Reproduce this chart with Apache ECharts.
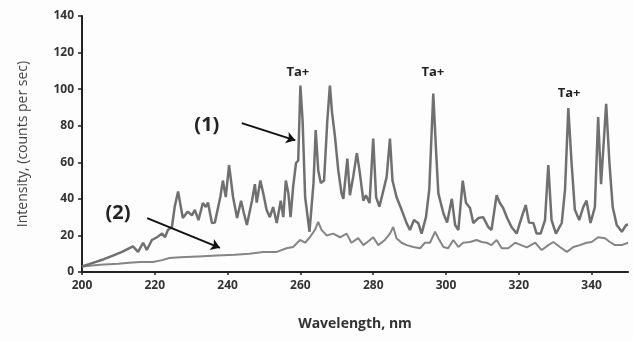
<!DOCTYPE html>
<html>
<head>
<meta charset="utf-8">
<script src="https://cdn.jsdelivr.net/npm/echarts@6/dist/echarts.min.js"></script>
<style>
html,body{margin:0;padding:0;background:#fdfdfd;}
#chart{width:633px;height:341px;}
</style>
</head>
<body>
<div id="chart"></div>
<script>
// Series (1): wavelength (nm) and intensity (counts per sec)
var wl1 = [200,203,206,208.5,211,214,215.4,216.8,217.8,219.2,220.6,222,222.8,223.6,224.7,225.5,226.4,227.7,229,230.2,231,232,233.2,234,234.6,235.7,236.5,238,238.7,239.5,240.4,241.5,242.6,243.7,244.5,245.3,246.7,247.5,248,249,249.8,250.7,251.6,252.5,253.5,254.6,255.3,256,256.7,257.3,258,258.8,259.4,260,260.6,261.3,262.5,263.6,264.2,264.9,265.6,266.5,267.4,268.1,268.7,269.5,270.4,271.3,271.8,272.9,273.6,274.5,275.5,276.2,277.3,278,279,280,280.8,281.7,282.6,283.7,284.6,285.3,286.4,287.8,289.2,290.1,291.2,292.4,293.3,294.5,295.4,296.5,297.3,297.9,299.3,300.3,301.6,302.5,303.4,304.6,305.5,306.6,307.5,308.9,310.2,311.6,312.5,313.9,314.8,315.7,316.8,318,319.4,320.8,321.9,322.8,324,324.9,326,327.2,328.1,329,330.2,331.8,332.7,333.6,334.5,335.4,336.6,337.7,338.6,339.7,340.9,341.8,342.6,344,344.9,345.8,346.9,348.3,349.5,350];
var int1 = [3,5,7,9,11,14,11,16,12,17.5,19,21,19,23,24.6,36,44,29.5,33,31,34,28.4,37.7,35.5,38,26.8,27,41,50,41,58.5,41,29.5,39,32,25.7,39,48,38,50,43,34,30,35.5,26.8,39,30,50,43,30,46.5,59.6,61,102,83,41,22,48.6,77.6,55.7,48.6,50,83,102,87,74,55.7,43,40,62,42,52,65,56,39,42,37.7,73,41,35.7,43,52,73,50,41,34,26.6,23,28.4,26.6,21,30,45,97.6,65,43,32,27,40,25.7,23,50,37.7,35,26.8,29.5,30,24.6,23,42,37.7,35,29.5,24.6,21,30,36.6,27,26.8,21,21,28.4,58.5,28.4,21,26.8,45,89.6,59.6,34,28.4,35.5,39,26.8,35.5,84.7,48,92,59.6,35.5,25.7,22,25.7,26];

// Series (2)
var wl2 = [200,205,210,213,216,219.5,222,224,227,232,237,242,246,249.8,253.5,256.2,258,259.9,261.3,262.6,264,264.9,265.8,267.2,269,270.9,272.7,274,275.9,277.3,279.1,280,281.4,283.2,284.6,285.5,286.4,287.8,289.2,291,292.9,294.2,295.6,297,297.9,299.3,300.6,302,303.4,304.7,306.6,308.4,309.8,311.2,312.5,313.9,315.3,317.1,319,320.3,322.2,324.5,326.3,328.1,329.5,331.3,333.2,335,336.8,338.6,340,341.8,343.7,345,346.4,348.3,350];
var int2 = [3,4,4.5,5,5.5,5.5,6.5,7.7,8,8.5,9,9.5,10,11,11,13,13.7,17.5,16,19,23,27.4,23,20,21,19,21,16,18.5,14.7,17.5,19,14.7,17.5,21,24.6,18.5,16,14.7,13.7,13,16,16,22,18.5,13.7,13,17.5,13.7,16,16.4,17.5,16.4,16,14.7,17.5,13,13,16,15,13.5,16,12,14.7,16.4,13.7,11,13.7,14.7,16,16.4,19,18.5,16.4,14.7,14.7,16];

var xTicks = [200,220,240,260,280,300,320,340];
var yTicks = [0,20,40,60,80,100,120,140];

function pairs(x, y){ return x.map(function(v,i){ return [v, y[i]]; }); }

var chart = echarts.init(document.getElementById('chart'), null, {renderer:'canvas'});
var txt = function(name, coord, size){
  return {name:name, coord:coord, symbolSize:0,
    label:{show:true, formatter:name, color:'#222', fontWeight:'bold', fontSize:size, fontFamily:'Open Sans', position:'inside'}};
};
chart.setOption({
  backgroundColor:'#fdfdfd',
  animation:false,
  grid:{left:82, right:5, top:16, bottom:69},
  xAxis:{
    type:'value', min:xTicks[0], max:350, interval:20,
    name:'Wavelength, nm', nameLocation:'middle', nameGap:45,
    nameTextStyle:{color:'#333', fontSize:14, fontWeight:'bold', fontFamily:'Open Sans'},
    axisLine:{show:true, onZero:false, lineStyle:{color:'#222', width:2}},
    axisTick:{show:true, length:3, lineStyle:{color:'#222', width:1.5}},
    axisLabel:{showMaxLabel:false, color:'#333', fontSize:12, fontWeight:'bold', fontFamily:'Open Sans', margin:8},
    splitLine:{show:false}
  },
  yAxis:{
    type:'value', min:yTicks[0], max:yTicks[yTicks.length-1], interval:20,
    name:'Intensity, (counts per sec)', nameLocation:'middle', nameGap:52, nameRotate:90,
    nameTextStyle:{color:'#444', fontSize:14, fontFamily:'Open Sans'},
    axisLine:{show:true, lineStyle:{color:'#222', width:2}},
    axisTick:{show:true, length:4, lineStyle:{color:'#222', width:1.5}},
    axisLabel:{color:'#333', fontSize:12, fontWeight:'bold', fontFamily:'Open Sans', margin:8},
    splitLine:{show:false}
  },
  series:[
    {type:'line', name:'(2)', data:pairs(wl2,int2), symbol:'none', lineStyle:{color:'#858585', width:2}, z:2},
    {type:'line', name:'(1)', data:pairs(wl1,int1), symbol:'none', lineStyle:{color:'#707070', width:2.5}, z:3,
      markPoint:{
        data:[
          txt('Ta+', [259.3, 109], 13),
          txt('Ta+', [296.4, 109], 13),
          txt('Ta+', [333.8, 98], 13),
          txt('(1)', [234.3, 80.3], 20),
          txt('(2)', [209.9, 32.2], 20)
        ]
      },
      markLine:{
        silent:true, symbol:['none','arrow'], symbolSize:9,
        label:{show:false},
        lineStyle:{color:'#111', width:2, type:'solid'},
        data:[
          [{coord:[243.9, 81.4]},{coord:[258.6, 72]}],
          [{coord:[217.9, 29.5]},{coord:[237.9, 13.2]}]
        ]
      }
    }
  ]
});
</script>
</body>
</html>
